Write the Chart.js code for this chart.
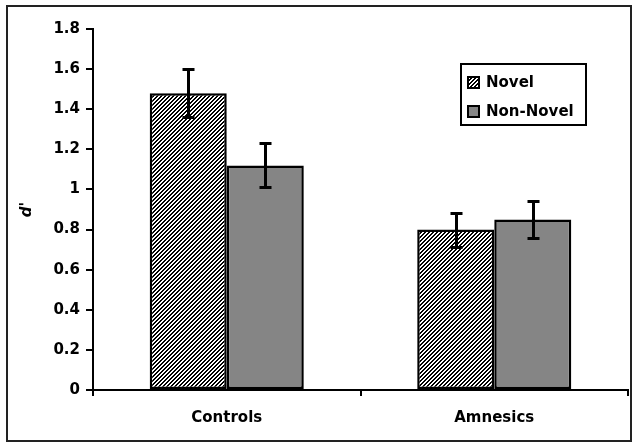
<!DOCTYPE html>
<html>
<head>
<meta charset="utf-8">
<script src="https://cdn.jsdelivr.net/npm/chart.js@4.4.0/dist/chart.umd.min.js"></script>
<style>
html,body{margin:0;padding:0;background:#fff;}
#wrap{width:638px;height:445px;}
</style>
</head>
<body>
<div id="wrap"><canvas id="c" width="638" height="445"></canvas></div>
<script>
const categories = ['Controls', 'Amnesics'];
const seriesNames = ['Novel', 'Non-Novel'];
const novel = [1.48, 0.80];
const nonNovel = [1.12, 0.85];
const novelErr = [0.12, 0.085];
const nonNovelErr = [0.11, 0.09];
const yMin = 0, yMax = 1.8, yStep = 0.2;
const yTitle = "d'";

function hatch() {
  const t = document.createElement('canvas');
  t.width = 4; t.height = 4;
  const g = t.getContext('2d');
  g.fillStyle = '#fff'; g.fillRect(0, 0, 4, 4);
  g.fillStyle = '#000';
  for (let x = 0; x < 4; x++) for (let y = 0; y < 4; y++) {
    if ((x + y) % 4 < 2) g.fillRect(x, y, 1, 1);
  }
  return document.getElementById('c').getContext('2d').createPattern(t, 'repeat');
}
const hatchPat = hatch();
const grayFill = '#858585';
const FONT = "'DejaVu Sans', sans-serif";

const errBars = {
  id: 'errBars',
  afterDatasetsDraw(chart) {
    const ctx = chart.ctx, ys = chart.scales.y;
    const errs = [novelErr, nonNovelErr];
    ctx.save();
    ctx.strokeStyle = '#000'; ctx.lineWidth = 3;
    chart.data.datasets.forEach((ds, di) => {
      const meta = chart.getDatasetMeta(di);
      meta.data.forEach((el, i) => {
        const v = ds.data[i], e = errs[di][i];
        const x = Math.round(el.x) + 0.5;
        const yt = Math.round(ys.getPixelForValue(v + e)) + 0.5, yb = Math.round(ys.getPixelForValue(v - e)) + 0.5;
        ctx.beginPath();
        ctx.moveTo(x, yt); ctx.lineTo(x, yb);
        ctx.moveTo(x - 6, yt); ctx.lineTo(x + 6, yt);
        ctx.moveTo(x - 6, yb); ctx.lineTo(x + 6, yb);
        ctx.stroke();
      });
    });
    ctx.restore();
  }
};

const frame = {
  id: 'frame',
  afterDraw(chart) {
    const ctx = chart.ctx;
    ctx.save();
    ctx.strokeStyle = '#222'; ctx.lineWidth = 2;
    ctx.strokeRect(7, 6, 624, 435);
    // legend
    ctx.strokeStyle = '#000';
    ctx.strokeRect(461, 64, 125, 61);
    const fills = [hatchPat, grayFill];
    const rowsY = [82, 111];
    ctx.font = 'bold 15px ' + FONT;
    ctx.textBaseline = 'middle';
    ctx.textAlign = 'left';
    seriesNames.forEach((n, i) => {
      ctx.fillStyle = fills[i];
      ctx.fillRect(468, rowsY[i] - 5, 11, 11);
      ctx.lineWidth = 2; ctx.strokeStyle = '#000';
      ctx.strokeRect(468, rowsY[i] - 5, 11, 11);
      ctx.fillStyle = '#000';
      ctx.fillText(n, 486, rowsY[i] + 1);
    });
    ctx.restore();
  }
};

new Chart(document.getElementById('c'), {
  type: 'bar',
  data: {
    labels: categories,
    datasets: [
      { label: seriesNames[0], data: novel, backgroundColor: hatchPat, borderColor: '#000', borderWidth: 2.5, borderSkipped: false },
      { label: seriesNames[1], data: nonNovel, backgroundColor: grayFill, borderColor: '#000', borderWidth: 2.5, borderSkipped: false }
    ]
  },
  options: {
    responsive: false,
    animation: false,
    devicePixelRatio: 1,
    layout: { padding: { left: 8, top: 29, right: 10, bottom: 4 } },
    datasets: { bar: { categoryPercentage: 0.576, barPercentage: 1.0 } },
    plugins: { legend: { display: false }, tooltip: { enabled: false } },
    scales: {
      x: {
        afterFit(s) { s.height = 445 - 390 - 4; },
        grid: { display: true, offset: true, drawOnChartArea: false, tickLength: 6, color: '#000', lineWidth: 2 },
        border: { display: true, color: '#000', width: 2 },
        ticks: { color: '#000', font: { family: FONT, size: 15, weight: 'bold' }, padding: 13 }
      },
      y: {
        min: yMin, max: yMax,
        afterFit(s) { s.width = 93 - 8; },
        grid: { display: true, drawOnChartArea: false, tickLength: 7, color: '#000', lineWidth: 2 },
        border: { display: true, color: '#000', width: 2 },
        ticks: {
          stepSize: yStep, color: '#000', padding: 6,
          font: { family: FONT, size: 15, weight: 'bold' },
          callback: v => String(Math.round(v * 10) / 10)
        },
        title: { display: true, text: yTitle, color: '#000', padding: { top: 10, bottom: 0 },
          font: { family: FONT, size: 15, weight: 'bold', style: 'italic' } }
      }
    }
  },
  plugins: [errBars, frame]
});
</script>
</body>
</html>
